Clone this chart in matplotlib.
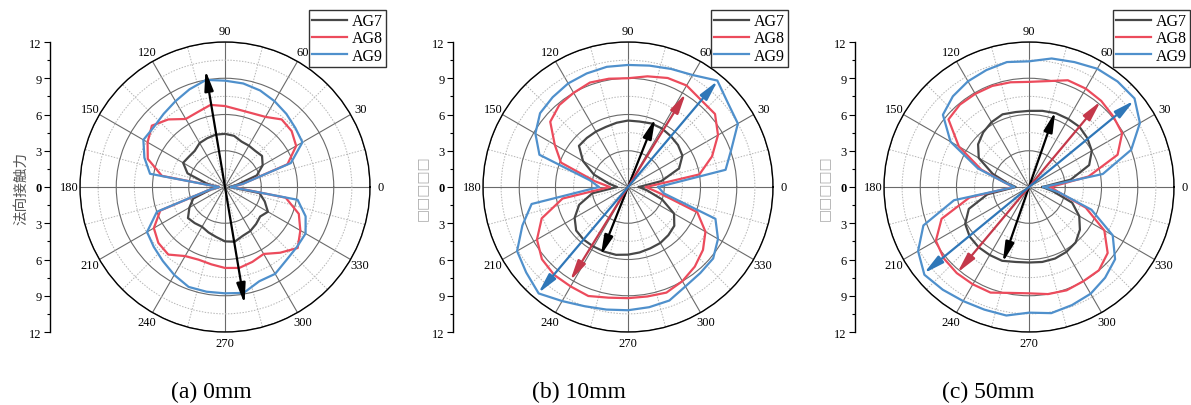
import numpy as np
import matplotlib
matplotlib.use('Agg')
import matplotlib.pyplot as plt
from matplotlib.lines import Line2D


# angles (deg) of the measured points
angles = list(range(0, 360, 10))

ag7_a = [0.4, 1.0, 2.8, 3.6, 4.0, 3.9, 3.95, 4.0, 4.3, 4.4, 4.4, 4.3, 4.2, 3.9, 3.9, 4.0, 3.3, 1.5,
         0.5, 1.2, 2.8, 3.4, 4.0, 3.9, 3.8, 4.0, 4.2, 4.5, 4.6, 4.3, 4.2, 4.0, 3.8, 4.1, 3.5, 2.9]
ag8_a = [0.6, 1.5, 5.5, 6.8, 7.2, 7.3, 6.7, 6.5, 6.5, 6.7, 6.9, 6.6, 6.5, 7.3, 7.9, 7.4, 6.8, 5.3,
         0.5, 1.3, 5.7, 6.8, 7.2, 7.3, 6.6, 6.4, 6.5, 6.7, 6.8, 6.6, 6.4, 7.1, 7.85, 7.2, 6.5, 5.1]
ag9_a = [0.5, 1.5, 5.8, 7.4, 7.6, 7.9, 8.2, 8.5, 8.7, 8.8, 9.0, 8.6, 8.2, 7.9, 7.7, 7.8, 7.1, 6.3,
         0.5, 1.3, 6.0, 7.45, 7.7, 8.0, 8.4, 8.8, 8.8, 8.8, 8.9, 8.3, 8.3, 7.9, 7.75, 7.7, 7.1, 6.1]

ag7_b = [0.9, 2.8, 4.5, 5.2, 5.4, 5.5, 5.6, 5.6, 5.5, 5.5, 5.4, 5.3, 5.3, 5.3, 5.3, 4.3, 3.0, 1.6,
         0.9, 3.0, 4.3, 5.1, 5.6, 5.7, 5.7, 5.7, 5.7, 5.6, 5.5, 5.4, 5.35, 5.2, 5.0, 4.4, 3.0, 1.6]
ag8_b = [1.5, 6.0, 7.4, 8.6, 9.4, 9.4, 9.7, 9.6, 9.3, 9.0, 9.1, 9.2, 9.0, 8.85, 8.4, 7.0, 5.9, 2.8,
         1.5, 5.5, 7.6, 8.7, 9.3, 9.5, 9.5, 9.6, 9.3, 9.2, 9.2, 9.3, 9.0, 8.6, 8.1, 7.4, 6.1, 2.5]
ag9_b = [2.5, 8.2, 9.1, 10.5, 10.8, 11.5, 10.7, 10.4, 10.2, 10.1, 10.1, 10.0, 9.9, 9.7, 9.5, 8.85, 7.8, 3.2,
         2.4, 8.1, 9.3, 10.6, 11.0, 11.5, 10.9, 10.5, 10.3, 10.2, 10.1, 10.0, 9.5, 9.3, 9.2, 8.6, 7.7, 3.0]

ag7_c = [1.1, 3.5, 5.3, 6.0, 6.3, 6.5, 6.5, 6.5, 6.4, 6.3, 6.3, 6.4, 6.2, 5.9, 5.5, 4.8, 3.2, 1.8,
         1.1, 3.5, 5.3, 6.1, 6.4, 6.5, 6.5, 6.5, 6.3, 6.25, 6.3, 6.3, 6.2, 6.0, 5.5, 4.8, 3.8, 2.0]
ag8_c = [1.8, 5.0, 7.8, 8.9, 9.1, 9.3, 9.4, 9.4, 8.9, 8.7, 8.8, 8.9, 8.9, 8.9, 8.7, 6.7, 4.2, 2.0,
         1.3, 5.0, 7.7, 8.9, 9.2, 9.3, 9.3, 9.3, 8.9, 8.8, 9.0, 9.1, 9.0, 9.0, 8.5, 7.2, 5.0, 2.5]
ag9_c = [1.2, 6.2, 9.0, 10.6, 11.4, 11.4, 11.3, 11.0, 10.8, 10.4, 10.5, 10.3, 10.1, 9.8, 9.3, 7.5, 4.5, 2.0,
         1.2, 6.3, 9.3, 10.6, 11.3, 11.1, 10.9, 10.8, 10.8, 10.4, 10.6, 10.4, 10.2, 9.8, 9.3, 8.0, 5.5, 2.5]

# principal directions (deg) and half-lengths of the double arrows
arrow_ang_a = [99.5]
arrow_len_a = [9.8]
arrow_ang_b = [68.3, 58.3, 49.8]
arrow_len_b = [6.1, 9.1, 11.5]
arrow_ang_c = [70.8, 50.1, 39.4]
arrow_len_c = [6.6, 9.25, 11.25]

series_names = ['AG7', 'AG8', 'AG9']
captions = ['(a) 0mm', '(b) 10mm', '(c) 50mm']
ylabels = ['法向接触力', '□□□□□', '□□□□□']

line_colors = ['#474747', '#ec4b5c', '#4f90cc']
arrow_colors_a = ['black']
arrow_colors_b = ['black', '#c4384a', '#2f77b8']
arrow_colors_c = ['black', '#c4384a', '#2f77b8']

panels = [
    ([ag7_a, ag8_a, ag9_a], arrow_ang_a, arrow_len_a, arrow_colors_a),
    ([ag7_b, ag8_b, ag9_b], arrow_ang_b, arrow_len_b, arrow_colors_b),
    ([ag7_c, ag8_c, ag9_c], arrow_ang_c, arrow_len_c, arrow_colors_c),
]

W, H = 1191, 406
centers_x = [225, 628, 1029]
center_y = 188
rad = 145
axis_x = [50, 453, 855]
legend_right = [386, 788, 1190]
caption_x = [211, 579, 988]

serif = 'Liberation Serif'
plt.rcParams['font.family'] = [serif, 'DejaVu Sans']

fig = plt.figure(figsize=(W / 100, H / 100), dpi=100)

theta = np.deg2rad(angles + [angles[0]])

for i, (vals, a_ang, a_len, a_col) in enumerate(panels):
    left = (centers_x[i] - rad) / W
    bottom = (H - center_y - rad) / H
    ax = fig.add_axes([left, bottom, 2 * rad / W, 2 * rad / H], projection='polar')

    for v, c, name in zip(vals, line_colors, series_names):
        ax.plot(theta, v + [v[0]], color=c, lw=1.6, label=name, zorder=3)

    for ang, ln, col in zip(a_ang, a_len, a_col):
        t = np.deg2rad(ang)
        ax.annotate('', xy=(t, ln), xytext=(t + np.pi, ln),
                    arrowprops=dict(arrowstyle='<|-|>,head_length=1.0,head_width=0.22',
                                    color=col, lw=1.6, shrinkA=0, shrinkB=0,
                                    mutation_scale=12), zorder=4)

    ax.set_ylim(0, 12)
    ax.set_yticks([3, 6, 9, 12])
    ax.set_yticks([1.5, 4.5, 7.5, 10.5], minor=True)
    ax.set_yticklabels([])
    ax.set_xticks(np.deg2rad(np.arange(0, 360, 30)))
    ax.set_xticks(np.deg2rad(np.arange(15, 360, 30)), minor=True)
    ax.set_xticklabels([str(d) for d in range(0, 360, 30)], fontsize=9)
    ax.tick_params(axis='x', which='major', pad=1, length=0)
    ax.tick_params(axis='x', which='minor', length=0)
    ax.tick_params(axis='y', which='both', length=0)
    ax.grid(False)
    ax.xaxis.grid(True, which='major', color='#6a6a6a', lw=0.8, ls='-')
    ax.xaxis.grid(True, which='minor', color='#b5b5b5', lw=0.7, ls=(0, (1.5, 1.5)))
    ax.yaxis.grid(True, which='major', color='#6a6a6a', lw=0.8, ls='-')
    ax.yaxis.grid(True, which='minor', color='#b5b5b5', lw=0.7, ls=(0, (1.5, 1.5)))
    ax.spines['polar'].set_color('black')
    ax.spines['polar'].set_linewidth(1.0)

    handles = [Line2D([], [], color=c, lw=1.6) for c in line_colors]
    fig.legend(handles, series_names, loc='upper right',
               bbox_to_anchor=(legend_right[i] / W, 1 - 11 / H),
               bbox_transform=fig.transFigure, fontsize=11.5, frameon=True,
               fancybox=False, edgecolor='black', borderpad=0.2, labelspacing=0.08,
               handlelength=2.2, handletextpad=0.3, borderaxespad=0)

    # separate radial scale on the left
    axl = fig.add_axes([axis_x[i] / W, bottom, 0.001, 2 * rad / H])
    axl.set_ylim(-12, 12)
    ticks = list(range(-12, 13, 3))
    axl.set_yticks(ticks)
    axl.set_yticks(np.arange(-10.5, 12, 3), minor=True)
    axl.set_yticklabels([str(abs(t)) for t in ticks[::-1]], fontsize=9)
    for lab in axl.get_yticklabels():
        if lab.get_text() == '0':
            lab.set_fontweight('bold')
    axl.set_xticks([])
    axl.patch.set_visible(False)
    for s in ['top', 'right', 'bottom']:
        axl.spines[s].set_visible(False)
    axl.spines['left'].set_linewidth(1.0)
    axl.tick_params(axis='y', which='major', length=4, width=0.8, pad=2)
    axl.tick_params(axis='y', which='minor', length=2, width=0.8)

    if i == 0:
        fig.text(21 / W, 1 - 188 / H, ylabels[i], rotation=90, ha='center', va='center',
                 fontsize=10.5, color='#555555', family=['Noto Sans CJK SC', 'DejaVu Sans'])
    else:
        fig.text((axis_x[i] - 31) / W, 1 - 188 / H, ylabels[i], rotation=90, ha='center',
                 va='center', fontsize=10, color='#aaaaaa', family='DejaVu Sans')

    fig.text(caption_x[i] / W, 1 - 392 / H, captions[i], ha='center', va='center',
             fontsize=17)

fig.savefig('out.png', dpi=100)
